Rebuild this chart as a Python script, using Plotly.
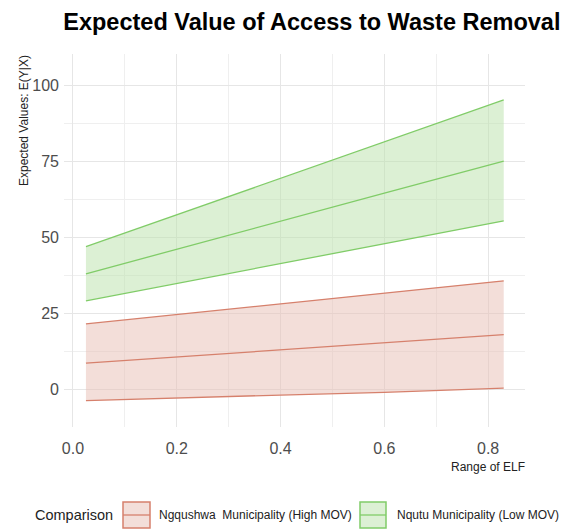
import plotly.graph_objects as go

x_vals = [0.025, 0.2, 0.4, 0.6, 0.83]

groups = ["Ngqushwa  Municipality (High MOV)", "Nqutu Municipality (Low MOV)"]
red_upper = [21.4, 24.5, 28.0, 31.6, 35.6]
red_mid = [8.5, 10.5, 12.8, 15.2, 17.9]
red_lower = [-3.8, -2.9, -2.0, -1.1, 0.3]
green_upper = [46.8, 57.3, 69.3, 81.3, 95.1]
green_mid = [37.9, 45.9, 55.1, 64.4, 75.0]
green_lower = [29.0, 34.7, 41.3, 47.8, 55.3]

y_ticks = [0, 25, 50, 75, 100]
x_ticks = [0.0, 0.2, 0.4, 0.6, 0.8]

FONT = "Liberation Sans, Arial, sans-serif"

styles = [
    dict(line="rgb(214,128,108)", fill="rgba(232,190,180,0.5)"),
    dict(line="rgb(128,204,104)", fill="rgba(185,225,170,0.5)"),
]
data = [(red_lower, red_mid, red_upper), (green_lower, green_mid, green_upper)]

fig = go.Figure()
for name, (lo, mid, up), st in zip(groups, data, styles):
    fig.add_trace(go.Scatter(x=x_vals, y=lo, mode="lines", line=dict(color=st["line"], width=1.3),
                             showlegend=False, legendgroup=name, hoverinfo="skip"))
    fig.add_trace(go.Scatter(x=x_vals, y=up, mode="lines", line=dict(color=st["line"], width=1.3),
                             fill="tonexty", fillcolor=st["fill"], name=name, legendgroup=name,
                             showlegend=False))
    fig.add_trace(go.Scatter(x=x_vals, y=mid, mode="lines", line=dict(color=st["line"], width=1.3),
                             showlegend=False, legendgroup=name))

# plot area in pixels: left 64, right 525, top 54, bottom 427
L, R, T, B = 64, 525, 54, 427
def px(x):
    return (x - L) / (R - L)
def py(y):
    return (B - y) / (B - T)

annotations = [
    dict(text="Expected Values: E(Y|X)", xref="paper", yref="paper", x=px(23.5), y=py(53),
         xanchor="center", yanchor="top", textangle=-90, showarrow=False,
         font=dict(size=12, color="#222")),
    dict(text="Range of ELF", xref="paper", yref="paper", x=px(527), y=py(467),
         xanchor="right", yanchor="middle", showarrow=False,
         font=dict(size=12, color="#222")),
    dict(text="Comparison", xref="paper", yref="paper", x=px(33), y=py(515),
         xanchor="left", yanchor="middle", showarrow=False,
         font=dict(size=14.5, color="#222")),
]
shapes = []
legend_pos = [(123, 150, 157), (360, 386, 395)]
for name, st, (bx0, bx1, tx) in zip(groups, styles, legend_pos):
    shapes.append(dict(type="rect", xref="paper", yref="paper", x0=px(bx0), x1=px(bx1),
                       y0=py(502), y1=py(528), fillcolor=st["fill"],
                       line=dict(color=st["line"], width=1.5), layer="above"))
    shapes.append(dict(type="line", xref="paper", yref="paper", x0=px(bx0), x1=px(bx1),
                       y0=py(515), y1=py(515), line=dict(color=st["line"], width=1.3)))
    annotations.append(dict(text=name.replace("  ", "&nbsp; "), xref="paper", yref="paper",
                            x=px(tx), y=py(515), xanchor="left", yanchor="middle",
                            showarrow=False, font=dict(size=12, color="#222")))

fig.update_layout(
    width=566, height=530,
    margin=dict(l=L, r=566 - R, t=T, b=530 - B, autoexpand=False),
    paper_bgcolor="white", plot_bgcolor="white",
    font=dict(family=FONT, color="#4d4d4d"),
    showlegend=False,
    title=dict(text="<b>Expected Value of Access to Waste Removal</b>", x=0.551, xanchor="center",
               y=0.958, yanchor="middle", font=dict(size=23.5, color="black", family=FONT)),
    xaxis=dict(range=[-0.0173, 0.871], tickvals=x_ticks, ticktext=[f"{v:.1f}" for v in x_ticks],
               showgrid=True, gridcolor="#e6e6e6", gridwidth=1, zeroline=False, showline=False,
               tickfont=dict(size=16, color="#4d4d4d"), ticklabelstandoff=10,
               minor=dict(dtick=0.1, tick0=0, showgrid=True, gridcolor="#efefef", gridwidth=1)),
    yaxis=dict(range=[-12.5, 110.2], tickvals=y_ticks, ticktext=[str(v) for v in y_ticks],
               showgrid=True, gridcolor="#e6e6e6", gridwidth=1, zeroline=False, showline=False,
               tickfont=dict(size=16, color="#4d4d4d"), ticklabelstandoff=4,
               minor=dict(dtick=12.5, tick0=0, showgrid=True, gridcolor="#efefef", gridwidth=1)),
    annotations=annotations,
    shapes=shapes,
)

fig.write_html("out.html", config={"displayModeBar": False},
               post_script="document.body.style.margin='0';document.body.style.overflow='hidden';")
